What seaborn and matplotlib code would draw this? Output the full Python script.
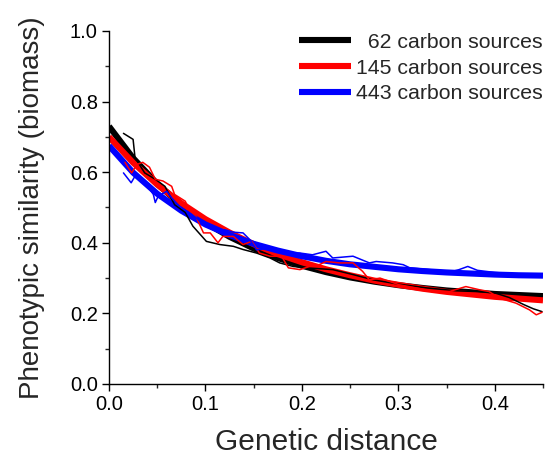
import numpy as np
import pandas as pd
import matplotlib
matplotlib.use("Agg")
import matplotlib.pyplot as plt
from matplotlib.ticker import MultipleLocator
import seaborn as sns

sns.set_style("ticks")
plt.rcParams['font.family'] = ['Liberation Sans', 'DejaVu Sans']

# ---- fitted curves (sampled) ----
fit_x = [0.0, 0.025, 0.05, 0.075, 0.1, 0.125, 0.15, 0.175, 0.2, 0.225, 0.25,
         0.275, 0.3, 0.325, 0.35, 0.375, 0.4, 0.425, 0.45]
fit_62 = [0.730, 0.640, 0.567, 0.507, 0.457, 0.417, 0.384, 0.357, 0.335, 0.317,
          0.302, 0.290, 0.280, 0.272, 0.265, 0.260, 0.255, 0.252, 0.249]
fit_145 = [0.700, 0.627, 0.565, 0.512, 0.467, 0.429, 0.396, 0.368, 0.345, 0.325,
           0.308, 0.293, 0.281, 0.270, 0.261, 0.254, 0.247, 0.242, 0.237]
fit_443 = [0.675, 0.599, 0.539, 0.491, 0.452, 0.422, 0.397, 0.378, 0.362, 0.349,
           0.339, 0.332, 0.325, 0.320, 0.316, 0.313, 0.310, 0.308, 0.307]

# ---- raw (noisy) curves ----
raw62_x = [0.015, 0.025, 0.027, 0.037, 0.048, 0.058, 0.068, 0.079, 0.087, 0.101,
           0.115, 0.129, 0.139, 0.153, 0.167, 0.177, 0.191, 0.205, 0.232, 0.253,
           0.274, 0.300, 0.330, 0.360, 0.380, 0.400, 0.415, 0.430, 0.440, 0.449]
raw62_y = [0.710, 0.693, 0.641, 0.598, 0.580, 0.560, 0.508, 0.486, 0.447, 0.404,
           0.395, 0.390, 0.381, 0.371, 0.357, 0.343, 0.333, 0.329, 0.324, 0.310,
           0.295, 0.283, 0.272, 0.264, 0.262, 0.258, 0.245, 0.225, 0.213, 0.205]

raw145_x = [0.0166, 0.0235, 0.029, 0.035, 0.042, 0.048, 0.056, 0.065, 0.068, 0.079,
            0.084, 0.090, 0.098, 0.105, 0.113, 0.118, 0.129, 0.139, 0.148, 0.156,
            0.167, 0.179, 0.186, 0.198, 0.208, 0.218, 0.225, 0.239, 0.253, 0.263,
            0.270, 0.281, 0.301, 0.319, 0.336, 0.353, 0.370, 0.384, 0.394, 0.405,
            0.422, 0.436, 0.443, 0.449]
raw145_y = [0.628, 0.598, 0.622, 0.628, 0.614, 0.580, 0.575, 0.560, 0.537, 0.518,
            0.490, 0.475, 0.428, 0.428, 0.400, 0.418, 0.418, 0.395, 0.404, 0.371,
            0.362, 0.362, 0.329, 0.324, 0.333, 0.338, 0.347, 0.343, 0.343, 0.319,
            0.295, 0.300, 0.281, 0.272, 0.262, 0.262, 0.276, 0.267, 0.262, 0.243,
            0.229, 0.210, 0.196, 0.203]

raw443_x = [0.015, 0.023, 0.027, 0.034, 0.046, 0.048, 0.051, 0.060, 0.065, 0.073,
            0.086, 0.100, 0.115, 0.120, 0.129, 0.139, 0.146, 0.153, 0.170, 0.184,
            0.198, 0.211, 0.225, 0.232, 0.253, 0.270, 0.277, 0.294, 0.305, 0.312,
            0.340, 0.356, 0.363, 0.372, 0.382, 0.400, 0.420, 0.450]
raw443_y = [0.598, 0.570, 0.589, 0.584, 0.537, 0.514, 0.532, 0.546, 0.527, 0.504,
            0.480, 0.450, 0.430, 0.437, 0.430, 0.428, 0.409, 0.380, 0.386, 0.371,
            0.371, 0.366, 0.376, 0.357, 0.362, 0.343, 0.347, 0.343, 0.338, 0.329,
            0.322, 0.319, 0.324, 0.333, 0.322, 0.316, 0.312, 0.308]

labels = ["  62 carbon sources", "145 carbon sources", "443 carbon sources"]
colors = ["#000000", "#ff0000", "#0000ff"]

fig = plt.figure(figsize=(5.46, 4.59), dpi=100)
ax = fig.add_axes([0.1996, 0.1634, 0.7949, 0.7691])

fits = [fit_62, fit_145, fit_443]
raws = [(raw62_x, raw62_y), (raw145_x, raw145_y), (raw443_x, raw443_y)]

for fy, lab, c in zip(fits, labels, colors):
    sns.lineplot(x=fit_x, y=fy, ax=ax, color=c, linewidth=4.4, label=lab,
                 estimator=None, sort=False, solid_capstyle='butt')
for (rx, ry), c in zip(raws, colors):
    sns.lineplot(x=rx, y=ry, ax=ax, color=c, linewidth=1.1, estimator=None,
                 sort=False, legend=False)

ax.set_xlim(0, 0.45)
ax.set_ylim(0, 1.0)
ax.xaxis.set_major_locator(MultipleLocator(0.1))
ax.xaxis.set_minor_locator(MultipleLocator(0.05))
ax.yaxis.set_major_locator(MultipleLocator(0.2))
ax.yaxis.set_minor_locator(MultipleLocator(0.1))
ax.xaxis.set_major_formatter(matplotlib.ticker.FormatStrFormatter('%.1f'))
ax.yaxis.set_major_formatter(matplotlib.ticker.FormatStrFormatter('%.1f'))
ax.tick_params(which='major', direction='out', length=5, width=1, labelsize=14.5,
               colors='black', pad=3)
ax.tick_params(which='minor', direction='out', length=3, width=1)
for s in ['top', 'right']:
    ax.spines[s].set_visible(False)
for s in ['left', 'bottom']:
    ax.spines[s].set_linewidth(1)
    ax.spines[s].set_color('black')

ax.set_xlabel("Genetic distance", fontsize=21.5, labelpad=10)
ax.set_ylabel("Phenotypic similarity (biomass)", fontsize=20, labelpad=18)

leg = ax.legend(loc='upper right', bbox_to_anchor=(1.0, 0.995),
                bbox_transform=ax.transAxes, frameon=False, fontsize=15.3,
                handlelength=2.45, handletextpad=0.25, labelspacing=0.32,
                borderpad=0, borderaxespad=0)

fig.savefig("out.png", dpi=100)
